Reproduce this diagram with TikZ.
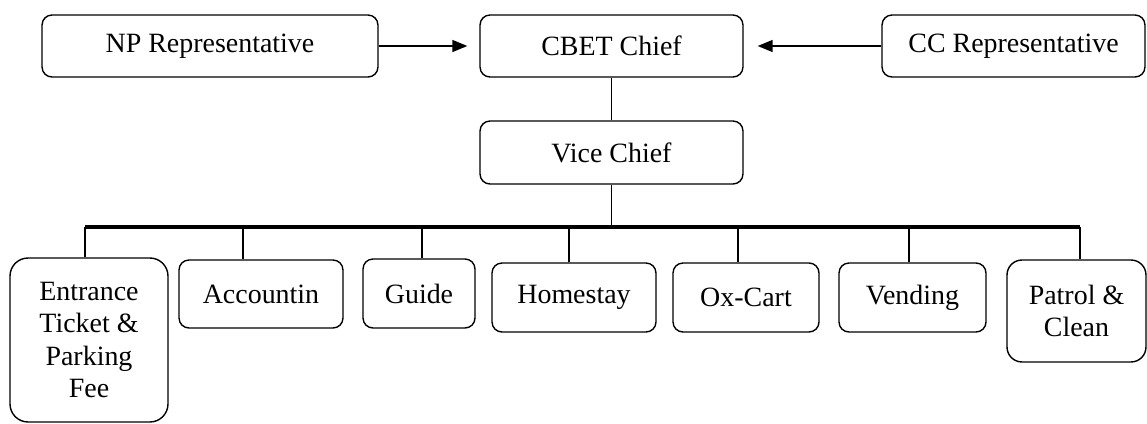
\documentclass[tikz,border=0pt]{standalone}
\usepackage{fontspec}
\setmainfont{Liberation Serif}
\usetikzlibrary{arrows.meta}
\tikzset{box/.style={draw, rounded corners=0.2cm, align=center, inner sep=0pt, line width=0.8pt, font=\fontsize{15.9}{18.3}\selectfont},
arr/.style={-{Triangle[length=0.3cm,width=0.24cm]}, line width=0.8pt}}
\begin{document}
\begin{tikzpicture}[x=0.02cm, y=-0.02cm]
\useasboundingbox (0,0) rectangle (1147,423);
\node[box, minimum width=6.72cm, minimum height=1.24cm] (np) at (210,46) {NP Representative};
\node[box, minimum width=5.26cm, minimum height=1.24cm] (cbet) at (611.5,46) {CBET Chief};
\node[box, minimum width=5.26cm, minimum height=1.24cm] (cc) at (1013.5,46) {CC Representative};
\node[box, minimum width=5.26cm, minimum height=1.26cm] (vice) at (611.5,152.5) {Vice Chief};

\node[box, rounded corners=0.36cm, minimum width=3.16cm, minimum height=3.28cm] (entr) at (89,340) {Entrance\\Ticket \&\\Parking\\Fee};
\node[box, minimum width=3.28cm, minimum height=1.36cm] (acc) at (261,294) {Accountin};
\node[box, minimum width=2.24cm, minimum height=1.38cm] (guide) at (419,293.5) {Guide};
\node[box, minimum width=3.28cm, minimum height=1.38cm] (home) at (574,297.5) {Homestay};
\node[box, minimum width=2.92cm, minimum height=1.38cm] (ox) at (746,297.5) {Ox-Cart};
\node[box, minimum width=2.94cm, minimum height=1.38cm] (vend) at (912.5,297.5) {Vending};
\node[box, rounded corners=0.3cm, minimum width=2.78cm, minimum height=2.04cm] (patrol) at (1076.5,311) {Patrol \&\\Clean};

\draw[arr, shorten >=0.24cm] (np) -- (cbet);
\draw[arr, shorten >=0.28cm] (cc) -- (cbet);
\draw[line width=0.8pt] (cbet) -- (vice);

\coordinate (busL) at (85,227);
\coordinate (busR) at (1080,227);
\draw[line width=1.8pt] (busL) -- (busR);
\draw[line width=0.8pt] (vice) -- (vice |- busL);
\foreach \n/\x in {entr/85, acc/243, guide/422, home/569, ox/738, vend/909, patrol/1080} {
\coordinate (b\n) at (\x,227);
\draw[line width=0.8pt] (b\n) -- (b\n |- \n.north);
}
\end{tikzpicture}
\end{document}
